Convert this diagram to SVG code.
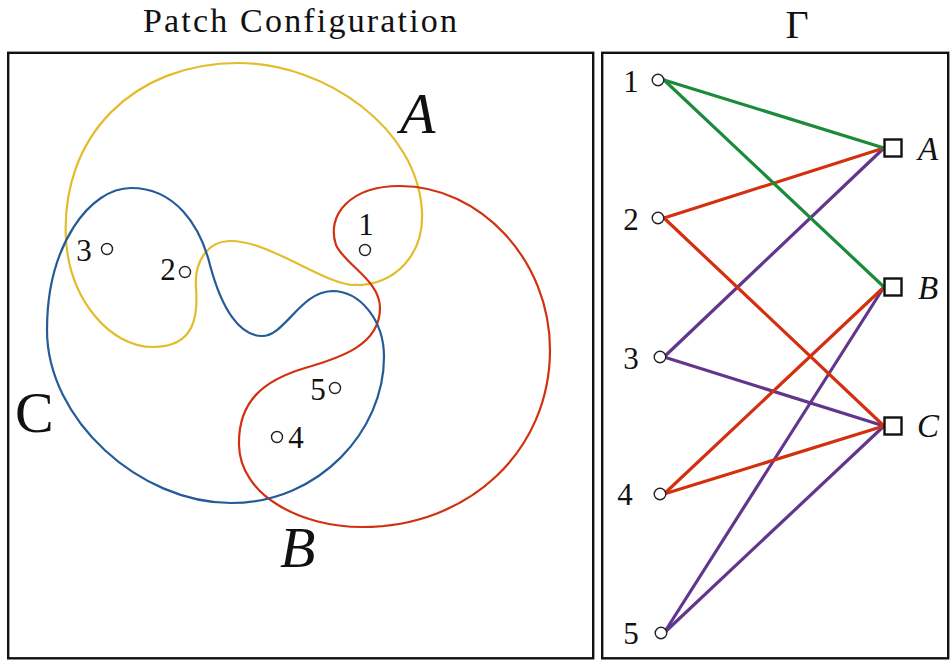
<svg xmlns="http://www.w3.org/2000/svg" width="950" height="662" viewBox="0 0 950 662">
<style>
  text { font-family: "Liberation Serif", "DejaVu Serif", serif; fill: #111; }
  .frame { fill: none; stroke: #111; stroke-width: 2.4; }
  .region { fill: none; stroke-width: 2.2; }
  .dot { fill: #fff; stroke: #222; stroke-width: 1.4; }
  .sq { fill: #fff; stroke: #111; stroke-width: 2.4; }
  .edge { stroke-width: 3.2; fill: none; stroke-linecap: round; }
  .num { font-size: 31px; text-anchor: middle; }
  .big { font-size: 58px; }
  .it { font-style: italic; }
  .g { stroke: #1b8a3a; }
  .r { stroke: #d3300f; }
  .p { stroke: #62368c; }
</style>

<text x="300" y="32" font-size="34" text-anchor="middle" textLength="314" lengthAdjust="spacing">Patch Configuration</text>
<text x="797" y="38" font-size="40" text-anchor="middle">Γ</text>

<rect class="frame" x="8.2" y="52.8" width="585" height="605.5"/>
<rect class="frame" x="602.2" y="52.8" width="346" height="605.5"/>

<!-- Patch configuration -->
<g id="patchA">
  <path class="region" stroke="#e2bd2b" d="M 238,63 C 325,63 418,128 422,212 C 424,255 395,285 355,285 C 325,285 270,241 231,241 C 207,241 194,262 196,288 C 198,314 196,347 153,347 C 110,347 70,300 66,240 C 60,135 135,63 238,63 Z"/>
  <text class="big it" x="400" y="133">A</text>
</g>
<g id="patchB">
  <path class="region" stroke="#d3300f" d="M 400,186 C 480,186 550,260 550,350 C 550,450 470,527 362,527 C 300,527 240,495 239,445 C 238,400 265,380 305,368 C 340,358 380,345 380,308 C 380,280 345,265 336,245 C 326,215 350,186 400,186 Z"/>
  <text class="big it" x="280" y="567">B</text>
</g>
<g id="patchC">
  <path class="region" stroke="#245b98" d="M 131,188 C 175,188 200,225 210,265 C 222,310 240,336 262,336 C 285,336 300,292 332,291 C 360,291 384,320 384,357 C 384,430 320,503 231,503 C 140,503 47,420 47,330 C 47,245 90,188 131,188 Z"/>
  <text class="big" x="15" y="432">C</text>
</g>
<g id="point1"><circle class="dot" cx="365" cy="250" r="5.5"/><text class="num" x="366" y="235">1</text></g>
<g id="point2"><circle class="dot" cx="185" cy="272" r="5.5"/><text class="num" x="168" y="280">2</text></g>
<g id="point3"><circle class="dot" cx="107" cy="249" r="5.5"/><text class="num" x="84" y="261">3</text></g>
<g id="point4"><circle class="dot" cx="277" cy="437" r="5.5"/><text class="num" x="296" y="448">4</text></g>
<g id="point5"><circle class="dot" cx="335" cy="388" r="5.5"/><text class="num" x="318" y="400">5</text></g>

<!-- Graph Gamma: connectors -->
<g id="connectors">
  <line class="edge p" x1="664" y1="357" x2="884" y2="148"/>
  <line class="edge p" x1="664" y1="357" x2="884" y2="426"/>
  <line class="edge p" x1="664" y1="633" x2="884" y2="287"/>
  <line class="edge p" x1="664" y1="633" x2="884" y2="426"/>
  <line class="edge r" x1="664" y1="218" x2="884" y2="148"/>
  <line class="edge r" x1="664" y1="218" x2="884" y2="426"/>
  <line class="edge r" x1="664" y1="494" x2="884" y2="287"/>
  <line class="edge r" x1="664" y1="494" x2="884" y2="426"/>
  <line class="edge g" x1="664" y1="80" x2="884" y2="148"/>
  <line class="edge g" x1="664" y1="80" x2="884" y2="287"/>
</g>

<g id="v1"><circle class="dot" cx="658" cy="80" r="5.8"/><text class="num" x="631" y="92">1</text></g>
<g id="v2"><circle class="dot" cx="658" cy="218" r="5.8"/><text class="num" x="631" y="230">2</text></g>
<g id="v3"><circle class="dot" cx="660" cy="357" r="5.8"/><text class="num" x="631" y="369">3</text></g>
<g id="v4"><circle class="dot" cx="660" cy="494" r="5.8"/><text class="num" x="625" y="505">4</text></g>
<g id="v5"><circle class="dot" cx="661" cy="633" r="5.8"/><text class="num" x="631" y="644">5</text></g>

<g id="nA"><rect class="sq" x="884.5" y="139.5" width="17" height="17"/><text class="it" font-size="33" x="918" y="160">A</text></g>
<g id="nB"><rect class="sq" x="884.5" y="278.5" width="17" height="17"/><text class="it" font-size="33" x="918" y="299">B</text></g>
<g id="nC"><rect class="sq" x="884.5" y="417.5" width="17" height="17"/><text class="it" font-size="33" x="917" y="437">C</text></g>
</svg>
